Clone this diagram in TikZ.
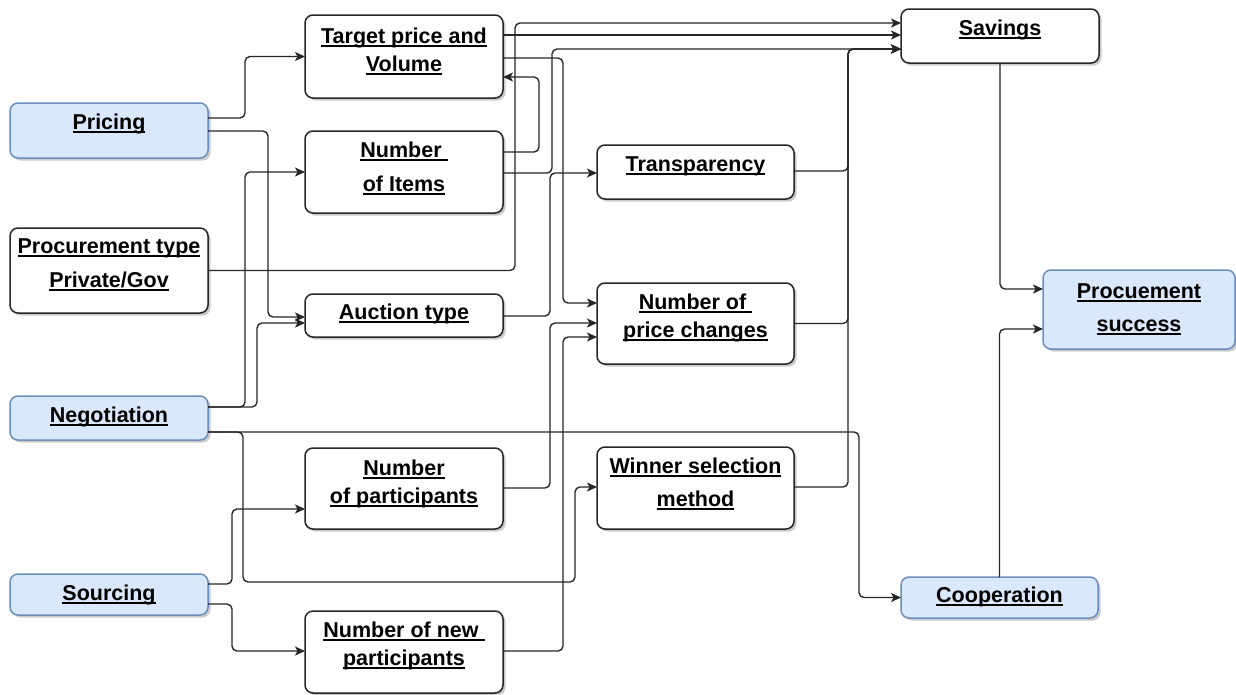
\documentclass[tikz,border=0pt]{standalone}
\usepackage{fontspec}
\setmainfont{Liberation Sans}
\usetikzlibrary{arrows.meta,shadows}
\newsavebox\myulbox
\newcommand{\uline}[1]{\sbox\myulbox{#1}\rlap{\rule[-3.5pt]{\wd\myulbox}{1.4pt}}\usebox\myulbox}
\definecolor{bluefill}{HTML}{DAE8FC}
\definecolor{blueline}{HTML}{6C8EBF}
\begin{document}
\begin{tikzpicture}[x=1pt,y=-1pt,
  box/.style={draw=black!85, line width=1.5pt, rounded corners=8pt, fill=white,
    inner sep=0pt, outer sep=0pt,
    drop shadow={shadow xshift=2.5pt, shadow yshift=-2.5pt, fill=black!45, opacity=0.45}},
  bluebox/.style={box, draw=blueline, fill=bluefill},
  lab/.style={font=\fontsize{21.5}{26}\selectfont\bfseries, anchor=base, inner sep=0pt},
  conn/.style={draw=black!85, line width=1.35pt, rounded corners=5pt,
    -{Stealth[length=10pt,width=9pt,inset=2.5pt]}}]
\fill[white] (0,0) rectangle (1236,694);
\useasboundingbox (0,0) rectangle (1236,694);

% boxes
\node[bluebox, minimum width=198pt, minimum height=55pt] (pricing) at (109,130.5) {};
\node[box, minimum width=198pt, minimum height=85pt] (ptype) at (109,270.5) {};
\node[bluebox, minimum width=198pt, minimum height=44pt] (nego) at (109,418) {};
\node[bluebox, minimum width=198pt, minimum height=41pt] (sourc) at (109,594.5) {};
\node[box, minimum width=198pt, minimum height=83pt] (target) at (404,56.5) {};
\node[box, minimum width=198pt, minimum height=82pt] (items) at (404,172) {};
\node[box, minimum width=198pt, minimum height=43pt] (auction) at (404,315.5) {};
\node[box, minimum width=198pt, minimum height=81pt] (part) at (404,488.5) {};
\node[box, minimum width=198pt, minimum height=82pt] (newpart) at (404,652) {};
\node[box, minimum width=197pt, minimum height=54pt] (transp) at (695.5,172) {};
\node[box, minimum width=197pt, minimum height=81pt] (price) at (695.5,323.5) {};
\node[box, minimum width=197pt, minimum height=82pt] (winner) at (695.5,488) {};
\node[box, minimum width=198pt, minimum height=54pt] (savings) at (1000,36) {};
\node[bluebox, minimum width=192pt, minimum height=79pt] (success) at (1139,309.5) {};
\node[bluebox, minimum width=197pt, minimum height=41pt] (coop) at (999.5,597.5) {};

% texts
\node[lab] (pricing-t) at (109,129) {\uline{Pricing}};
\node[lab] (ptype-t1) at (109,253) {\uline{Procurement type}};
\node[lab] (ptype-t2) at (109,287) {\uline{Private/Gov}};
\node[lab] (nego-t) at (109,422) {\uline{Negotiation}};
\node[lab] (sourc-t) at (109,600) {\uline{Sourcing}};
\node[lab] (target-t1) at (404,43) {\uline{Target price and}};
\node[lab] (target-t2) at (404,71) {\uline{Volume}};
\node[lab] (items-t1) at (404,157) {\uline{Number\ }};
\node[lab] (items-t2) at (404,191) {\uline{of Items}};
\node[lab] (auction-t) at (404,319) {\uline{Auction type}};
\node[lab] (part-t1) at (404,475) {\uline{Number}};
\node[lab] (part-t2) at (404,503) {\uline{of participants}};
\node[lab] (newpart-t1) at (404,637) {\uline{Number of new\ }};
\node[lab] (newpart-t2) at (404,665) {\uline{participants}};
\node[lab] (transp-t) at (695.5,171) {\uline{Transparency}};
\node[lab] (price-t1) at (695.5,309) {\uline{Number of\ }};
\node[lab] (price-t2) at (695.5,337) {\uline{price changes}};
\node[lab] (winner-t1) at (695.5,473) {\uline{Winner selection}};
\node[lab] (winner-t2) at (695.5,506) {\uline{method}};
\node[lab] (savings-t) at (1000,35) {\uline{Savings}};
\node[lab] (success-t1) at (1139,298) {\uline{Procuement}};
\node[lab] (success-t2) at (1139,331) {\uline{success}};
\node[lab] (coop-t) at (999.5,602) {\uline{Cooperation}};

% connectors
\draw[conn] ([yshift=12.5pt]pricing.east) -| ([xshift=-60pt]target.west) -- (target.west);
\draw[conn] ([yshift=-0.5pt]pricing.east) -| ([xshift=-37pt,yshift=-1.5pt]auction.west) -- ([yshift=-1.5pt]auction.west);
\draw[conn] ([yshift=11pt]nego.east) -| ([xshift=-60pt]items.west) -- (items.west);
\draw[conn] ([yshift=11pt]nego.east) -| ([xshift=-48pt,yshift=-7.5pt]auction.west) -- ([yshift=-7.5pt]auction.west);
\draw[conn] ([yshift=-14pt]nego.east) -| ([xshift=-42pt]coop.west) -- (coop.west);
\draw[conn] ([yshift=-14pt]nego.east) -| (243,582) -| ([xshift=-22pt,yshift=1pt]winner.west) -- ([yshift=1pt]winner.west);
\draw[conn] ([yshift=10.5pt]sourc.east) -| ([xshift=-73pt,yshift=-20.5pt]part.west) -- ([yshift=-20.5pt]part.west);
\draw[conn] ([yshift=-9.5pt]sourc.east) -| ([xshift=-73pt,yshift=1pt]newpart.west) -- ([yshift=1pt]newpart.west);
\draw[conn] (ptype.east) -| ([xshift=-386pt,yshift=13pt]savings.west) -- ([yshift=13pt]savings.west);
\draw[conn] ([yshift=21.5pt]target.east) -- ([yshift=21.5pt]target.east -| savings.west);
\draw[conn] ([yshift=-1pt]items.east) -| ([xshift=-349pt,yshift=-13pt]savings.west) -- ([yshift=-13pt]savings.west);
\draw[conn] ([yshift=20pt]items.east) -| ([xshift=36pt,yshift=-20.5pt]target.east) -- ([yshift=-20.5pt]target.east);
\draw[conn] ([yshift=-1.5pt]target.east) -| ([xshift=-34pt,yshift=20.5pt]price.west) -- ([yshift=20.5pt]price.west);
\draw[conn] ([yshift=-0.5pt]auction.east) -| ([xshift=-47pt,yshift=-1pt]transp.west) -- ([yshift=-1pt]transp.west);
\draw[conn] ([yshift=0.5pt]part.east) -| ([xshift=-47pt,yshift=0.5pt]price.west) -- ([yshift=0.5pt]price.west);
\draw[conn] ([yshift=1pt]newpart.east) -| ([xshift=-34pt,yshift=-13.5pt]price.west) -- ([yshift=-13.5pt]price.west);
\draw[conn] ([yshift=1pt]transp.east) -| ([xshift=-53pt,yshift=-13pt]savings.west) -- ([yshift=-13pt]savings.west);
\draw[conn] (price.east) -| ([xshift=-53pt,yshift=-13pt]savings.west) -- ([yshift=-13pt]savings.west);
\draw[conn] ([yshift=1pt]winner.east) -| ([xshift=-53pt,yshift=-13pt]savings.west) -- ([yshift=-13pt]savings.west);
\draw[conn] (savings.south) |- ([yshift=20.5pt]success.west);
\draw[conn] (coop.north) |- ([yshift=-19.5pt]success.west);
\end{tikzpicture}
\end{document}
